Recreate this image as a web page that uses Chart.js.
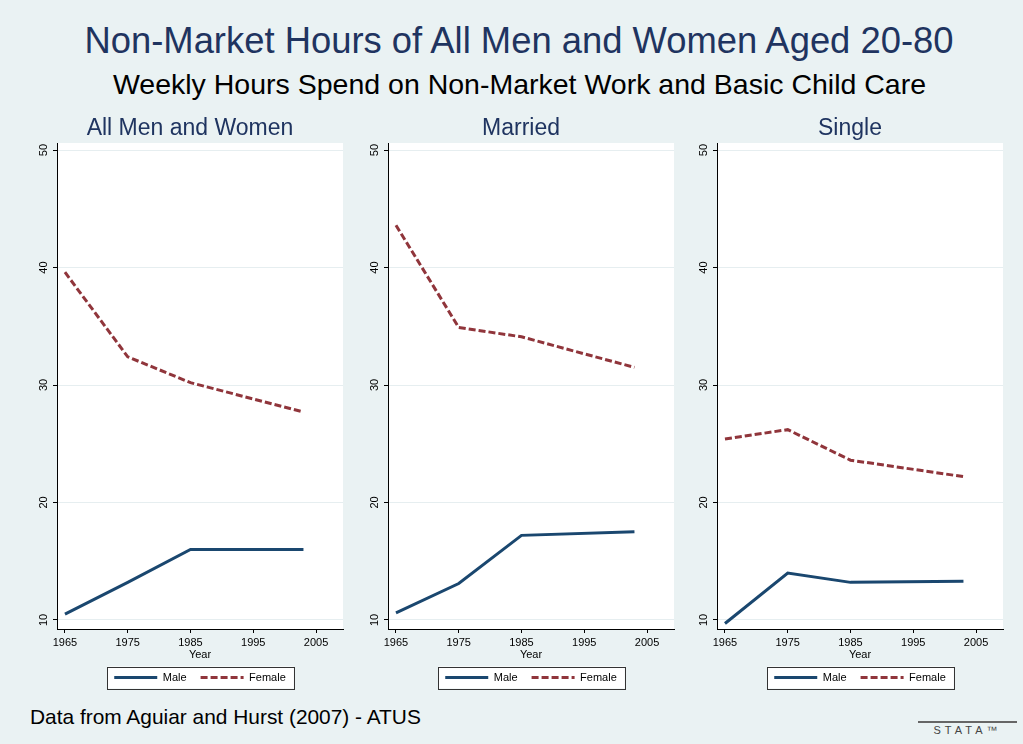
<!DOCTYPE html>
<html>
<head>
<meta charset="utf-8">
<script src="https://cdn.jsdelivr.net/npm/chart.js@4.4.1/dist/chart.umd.min.js"></script>
<style>
  body { margin: 0; background: #eaf2f3; font-family: "Liberation Sans", Arial, sans-serif; }
  #page { position: relative; width: 1023px; height: 744px; overflow: hidden; background: #eaf2f3; }
  .panel { position: absolute; top: 110px; width: 315px; height: 595px; }
  #title { position: absolute; left: 0; width: 1038px; top: 23px; text-align: center;
           font-size: 36.4px; line-height: 36px; color: #1f3460; white-space: nowrap; }
  #subtitle { position: absolute; left: 0; width: 1039px; top: 70px; text-align: center;
              font-size: 28.5px; line-height: 28px; color: #000; white-space: nowrap; }
  #note { position: absolute; left: 30px; top: 707px; font-size: 20.9px; line-height: 20.5px; color: #000; }
  #logo { position: absolute; left: 918px; top: 721px; width: 99px; border-top: 2px solid #666;
          font-size: 11px; line-height: 14px; letter-spacing: 4px; color: #444; text-align: center; }
</style>
</head>
<body>
<div id="page">
  <div id="title">Non-Market Hours of All Men and Women Aged 20-80</div>
  <div id="subtitle">Weekly Hours Spend on Non-Market Work and Basic Child Care</div>
  <canvas class="panel" id="p1" width="315" height="595" style="left:37px"></canvas>
  <canvas class="panel" id="p2" width="315" height="595" style="left:368px"></canvas>
  <canvas class="panel" id="p3" width="315" height="595" style="left:697px"></canvas>
  <div id="note">Data from Aguiar and Hurst (2007) - ATUS</div>
  <div id="logo">STATA™</div>
</div>
<script>
// data (weekly hours)
const years = [1965, 1975, 1985, 2003];
const allMale = [10.5, 13.2, 16.0, 16.0];
const allFemale = [39.6, 32.4, 30.2, 27.7];
const marriedMale = [10.6, 13.1, 17.2, 17.5];
const marriedFemale = [43.6, 34.9, 34.1, 31.5];
const singleMale = [9.7, 14.0, 13.2, 13.3];
const singleFemale = [25.4, 26.2, 23.6, 22.2];
const xTicks = [1965, 1975, 1985, 1995, 2005];
const yTicks = [10, 20, 30, 40, 50];
const panelTitles = ['All Men and Women', 'Married', 'Single'];
const seriesNames = ['Male', 'Female'];

const navy = '#1a476f';
const maroon = '#90353b';
const font = "'Liberation Sans', Arial, sans-serif";

// white plot region + boxed legend like stata
const stataLook = {
    id: 'stataLook',
    beforeDraw(chart) {
        const a = chart.chartArea;
        const ctx = chart.ctx;
        ctx.save();
        ctx.fillStyle = '#fff';
        ctx.fillRect(a.left, a.top, a.right - a.left, a.bottom - a.top);
        const r = legendRect(chart);
        if (r) ctx.fillRect(r.x, r.y, r.w, r.h);
        ctx.restore();
    },
    afterDraw(chart) {
        const r = legendRect(chart);
        if (!r) return;
        const ctx = chart.ctx;
        ctx.save();
        ctx.strokeStyle = '#333';
        ctx.lineWidth = 1;
        ctx.strokeRect(Math.round(r.x) + 0.5, Math.round(r.y) + 0.5, Math.round(r.w), Math.round(r.h));
        ctx.restore();
    }
};

function legendRect(chart) {
    const boxes = chart.legend && chart.legend.legendHitBoxes;
    if (!boxes || !boxes.length) return null;
    const left = Math.min(...boxes.map(b => b.left)) - 7;
    const right = Math.max(...boxes.map(b => b.left + b.width)) + 8;
    const mid = boxes[0].top + boxes[0].height / 2;
    return { x: left, y: mid - 11, w: right - left, h: 22 };
}

// default labels lose borderDash when point styles are used
function legendLabels(chart) {
    const items = Chart.defaults.plugins.legend.labels.generateLabels(chart);
    items.forEach(it => {
        const ds = chart.data.datasets[it.datasetIndex];
        it.lineDash = ds.borderDash || [];
        it.strokeStyle = ds.borderColor;
        it.lineWidth = ds.borderWidth;
    });
    return items;
}

function makePanel(id, title, male, female) {
    const ctx = document.getElementById(id).getContext('2d');
    return new Chart(ctx, {
        type: 'line',
        data: {
            datasets: [{
                label: seriesNames[0],
                data: years.map((y, i) => ({ x: y, y: male[i] })),
                borderColor: navy,
                backgroundColor: navy,
                borderWidth: 3,
                pointRadius: 0,
                tension: 0
            }, {
                label: seriesNames[1],
                data: years.map((y, i) => ({ x: y, y: female[i] })),
                borderColor: maroon,
                backgroundColor: maroon,
                borderWidth: 3,
                borderDash: [7, 3],
                pointRadius: 0,
                tension: 0
            }]
        },
        options: {
            responsive: false,
            animation: false,
            layout: { padding: { left: 0, right: 9, top: 0, bottom: 12 } },
            plugins: {
                tooltip: { enabled: false },
                title: {
                    display: true,
                    text: title,
                    color: '#1f3460',
                    font: { family: font, size: 23, weight: 'normal' },
                    padding: { top: 5, bottom: 0.4 }
                },
                legend: {
                    position: 'bottom',
                    fullSize: false,
                    labels: {
                        usePointStyle: true,
                        pointStyle: 'line',
                        pointStyleWidth: 43,
                        padding: 14,
                        color: '#000',
                        font: { family: font, size: 11 },
                        generateLabels: legendLabels
                    }
                }
            },
            scales: {
                x: {
                    type: 'linear',
                    min: 1963.73,
                    max: 2009.3,
                    afterBuildTicks: s => { s.ticks = xTicks.map(v => ({ value: v })); },
                    afterFit: s => { s.height = 29; },
                    grid: { drawOnChartArea: false, tickLength: 4, tickColor: '#000' },
                    border: { display: true, color: '#000', width: 1 },
                    ticks: {
                        color: '#000',
                        padding: 3,
                        maxRotation: 0,
                        font: { family: font, size: 11 },
                        callback: v => String(v)
                    },
                    title: {
                        display: true,
                        text: 'Year',
                        color: '#000',
                        padding: { top: 0, bottom: -4 },
                        font: { family: font, size: 11 }
                    }
                },
                y: {
                    min: 9.23,
                    max: 50.6,
                    afterBuildTicks: s => { s.ticks = yTicks.map(v => ({ value: v })); },
                    afterFit: s => { s.width = 20; },
                    grid: { color: '#e6eef0', lineWidth: 1, tickLength: 4, tickColor: '#000' },
                    border: { display: true, color: '#000', width: 1 },
                    ticks: {
                        color: '#000',
                        padding: 3,
                        minRotation: 90,
                        maxRotation: 90,
                        crossAlign: 'center',
                        font: { family: font, size: 11 }
                    }
                }
            }
        },
        plugins: [stataLook]
    });
}

makePanel('p1', panelTitles[0], allMale, allFemale);
makePanel('p2', panelTitles[1], marriedMale, marriedFemale);
makePanel('p3', panelTitles[2], singleMale, singleFemale);
</script>
</body>
</html>
